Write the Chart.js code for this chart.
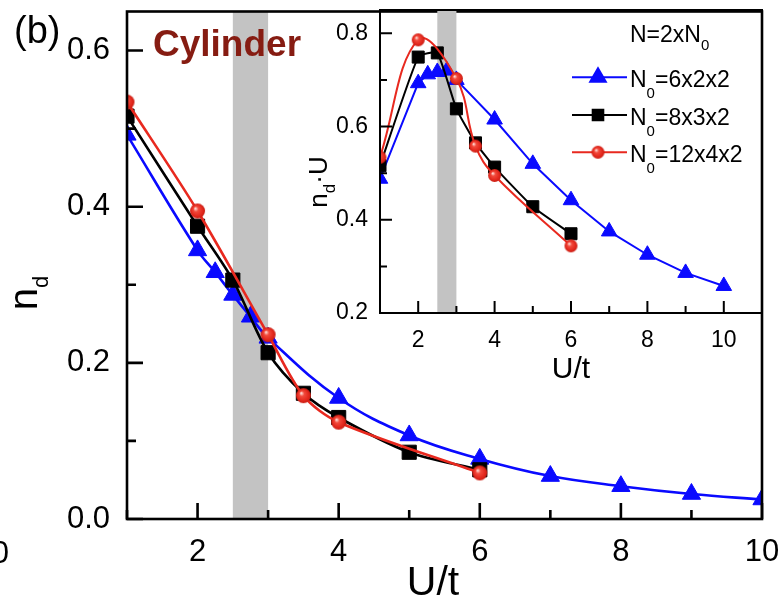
<!DOCTYPE html>
<html>
<head>
<meta charset="utf-8">
<script src="https://cdn.jsdelivr.net/npm/chart.js@4.4.0/dist/chart.umd.min.js"></script>
<style>
body { margin: 0; background: #fff; }
#wrap { position: relative; width: 784px; height: 600px; }
#main { position: absolute; left: 0; top: 0; }
#inset { position: absolute; left: 290px; top: 0; }
</style>
</head>
<body>
<div id="wrap">
  <canvas id="main" width="784" height="600"></canvas>
  <canvas id="inset" width="494" height="400"></canvas>
</div>
<script>
// n_d vs U/t for three cluster sizes, N = 2 x N0
var seriesNames = ['6x2x2', '8x3x2', '12x4x2'];

var uBlue  = [1, 2, 2.25, 2.5, 2.75, 3, 4, 5, 6, 7, 8, 9, 10];
var ndBlue = [0.492, 0.344, 0.316, 0.287, 0.259, 0.232, 0.155, 0.107, 0.077, 0.055, 0.042, 0.032, 0.025];

var uBlack  = [1, 2, 2.5, 3, 3.5, 4, 5, 6];
var ndBlack = [0.516, 0.375, 0.306, 0.213, 0.161, 0.130, 0.0855, 0.063];

var uRed  = [1, 2, 3, 3.5, 4, 6];
var ndRed = [0.534, 0.3945, 0.236, 0.158, 0.124, 0.059];

// inset: n_d * U
var nduBlue  = [0.488, 0.693, 0.712, 0.717, 0.720, 0.700, 0.615, 0.520, 0.442, 0.375, 0.325, 0.286, 0.258];
var nduBlack = [0.516, 0.749, 0.758, 0.638, 0.565, 0.513, 0.428, 0.370];
var nduRed   = [0.534, 0.786, 0.703, 0.558, 0.495, 0.344];

// shaded crossover window in U/t
var band = [2.5, 3.0];

var mainXTicks = [2, 4, 6, 8, 10];
var mainYTicks = [0.0, 0.2, 0.4, 0.6];
var insetXTicks = [2, 4, 6, 8, 10];
var insetYTicks = [0.2, 0.4, 0.6, 0.8];

var BLUE = '#0a0aff', BLACK = '#000000', RED = '#e8291f';
var FONT = "'Liberation Sans', Arial, sans-serif";

Chart.defaults.font.family = FONT;
Chart.defaults.color = '#000';

function pts(xs, ys) {
  return xs.map(function (x, i) { return { x: x, y: ys[i] }; });
}

// shaded red ball used as point marker
function sphere(r) {
  var c = document.createElement('canvas');
  var s = Math.ceil(r * 2) + 2;
  c.width = s; c.height = s;
  var g = c.getContext('2d');
  var cx = s / 2, cy = s / 2;
  var grad = g.createRadialGradient(cx - r * 0.3, cy - r * 0.35, r * 0.05, cx, cy, r);
  grad.addColorStop(0, '#ffe0da');
  grad.addColorStop(0.3, '#f24a3c');
  grad.addColorStop(0.75, '#e3281d');
  grad.addColorStop(1, '#c71d13');
  g.fillStyle = grad;
  g.beginPath(); g.arc(cx, cy, r, 0, Math.PI * 2); g.fill();
  return c;
}

// draws text pieces left to right: [text, size, baselineShift]
function runWidth(c, parts) {
  var w = 0;
  parts.forEach(function (p) { c.font = p[1] + 'px ' + FONT; w += c.measureText(p[0]).width; });
  return w;
}
function textRun(c, x, y, parts) {
  c.textAlign = 'left';
  c.textBaseline = 'alphabetic';
  parts.forEach(function (p) {
    c.font = p[1] + 'px ' + FONT;
    c.fillText(p[0], x, y + (p[2] || 0));
    x += c.measureText(p[0]).width;
  });
  return x;
}
function rotatedRun(c, cx, cy, parts) {
  c.save();
  c.translate(cx, cy);
  c.rotate(-Math.PI / 2);
  textRun(c, -runWidth(c, parts) / 2, 0, parts);
  c.restore();
}

function isStep(v, step) {
  return Math.abs(v / step - Math.round(v / step)) < 1e-6;
}

// grey band, box frame and inward tick marks
var axesBox = {
  id: 'axesBox',
  beforeDatasetsDraw: function (chart, args, o) {
    var a = chart.chartArea, xs = chart.scales.x, c = chart.ctx;
    var x0 = xs.getPixelForValue(band[0]), x1 = xs.getPixelForValue(band[1]);
    c.save();
    c.fillStyle = '#c3c3c3';
    c.fillRect(x0, a.top, x1 - x0, a.bottom - a.top);
    c.restore();
  },
  afterDraw: function (chart, args, o) {
    var a = chart.chartArea, xs = chart.scales.x, ys = chart.scales.y, c = chart.ctx;
    c.save();
    c.strokeStyle = '#000';
    c.lineWidth = o.lw;
    c.strokeRect(a.left, a.top, a.right - a.left, a.bottom - a.top);
    c.beginPath();
    xs.ticks.forEach(function (t) {
      var px = xs.getPixelForValue(t.value);
      var len = isStep(t.value, 2) ? o.major : o.minor;
      c.moveTo(px, a.bottom); c.lineTo(px, a.bottom - len);
    });
    ys.ticks.forEach(function (t) {
      var py = ys.getPixelForValue(t.value);
      var len = isStep(t.value, 0.2) ? o.major : o.minor;
      c.moveTo(a.left, py); c.lineTo(a.left + len, py);
    });
    c.stroke();
    c.restore();
  }
};

function lineSet(label, xs, ys, color, style, radius, width, tension, order) {
  return {
    label: label,
    data: pts(xs, ys),
    borderColor: color,
    backgroundColor: color,
    borderWidth: width,
    tension: tension,
    pointStyle: style,
    pointRadius: radius,
    pointBackgroundColor: color,
    pointBorderColor: color,
    pointBorderWidth: 1,
    order: order
  };
}

// fixed axis sizes, no edge padding from tick labels
function noPad(s) {
  s.paddingTop = 0; s.paddingBottom = 0; s.paddingLeft = 0; s.paddingRight = 0;
}

function scaleX(min, max, labels, size, pad, height) {
  return {
    type: 'linear', min: min, max: max,
    grid: { display: false, drawTicks: false },
    border: { display: false },
    afterFit: function (s) { s.height = height; noPad(s); },
    ticks: {
      stepSize: 1, autoSkip: false, maxRotation: 0, padding: pad,
      font: { size: size },
      callback: function (v) { return labels.indexOf(v) >= 0 ? String(v) : ''; }
    }
  };
}
function scaleY(min, max, labels, size, pad, width) {
  return {
    type: 'linear', min: min, max: max,
    grid: { display: false, drawTicks: false },
    border: { display: false },
    afterFit: function (s) { s.width = width; noPad(s); },
    ticks: {
      stepSize: 0.1, includeBounds: false, autoSkip: false, padding: pad,
      font: { size: size },
      callback: function (v) {
        for (var i = 0; i < labels.length; i++) {
          if (Math.abs(labels[i] - v) < 1e-6) return labels[i].toFixed(1);
        }
        return '';
      }
    }
  };
}

var mainTexts = {
  id: 'mainTexts',
  afterDraw: function (chart) {
    var c = chart.ctx;
    c.save();
    c.fillStyle = '#000';
    textRun(c, 14, 43, [['(b)', 38, 0]]);
    c.textAlign = 'right';
    c.font = '31px ' + FONT;
    c.fillText('0', 9, 563);
    c.font = 'bold 37px ' + FONT;
    c.fillStyle = '#861c12';
    c.textAlign = 'left';
    c.fillText('Cylinder', 153, 56);
    c.fillStyle = '#000';
    c.font = '41px ' + FONT;
    c.textAlign = 'center';
    c.fillText('U/t', 433, 595);
    rotatedRun(c, 37, 293, [['n', 40, 0], ['d', 22, 11]]);
    c.restore();
  }
};

var ballMain = sphere(7.5), ballInset = sphere(6.5), ballLegend = sphere(6.5);

new Chart(document.getElementById('main'), {
  type: 'line',
  data: {
    datasets: [
      lineSet(seriesNames[0], uBlue, ndBlue, BLUE, 'triangle', 10.5, 2.6, 0.4, 3),
      lineSet(seriesNames[1], uBlack, ndBlack, BLACK, 'rect', 10, 2.6, 0.3, 2),
      lineSet(seriesNames[2], uRed, ndRed, RED, ballMain, 7.5, 2.6, 0.3, 1)
    ]
  },
  options: {
    responsive: false,
    animation: false,
    devicePixelRatio: 1,
    events: [],
    layout: { padding: { left: 0, top: 7, right: 22, bottom: 0 } },
    scales: {
      x: scaleX(1, 10, mainXTicks, 31, 15, 81),
      y: scaleY(0, 0.65, mainYTicks, 31, 17, 127)
    },
    plugins: {
      legend: { display: false },
      tooltip: { enabled: false },
      axesBox: { lw: 2.6, major: 16, minor: 9 }
    }
  },
  plugins: [axesBox, mainTexts]
});

var insetTexts = {
  id: 'insetTexts',
  afterDraw: function (chart) {
    var c = chart.ctx;
    c.save();
    c.fillStyle = '#000';
    c.font = '30px ' + FONT;
    c.textAlign = 'center';
    c.fillText('U/t', 281, 378);
    rotatedRun(c, 37, 182, [['n', 26, 0], ['d', 17, 8], ['\u00b7U', 26, 0]]);

    // legend
    textRun(c, 340, 41.5, [['N=2xN', 23, 0], ['0', 15, 8.5]]);
    var rows = [
      { y: 86.7, color: BLUE, style: 'triangle', r: 9, name: seriesNames[0] },
      { y: 124.5, color: BLACK, style: 'rect', r: 7.5, name: seriesNames[1] },
      { y: 161.7, color: RED, style: ballLegend, r: 6.5, name: seriesNames[2] }
    ];
    rows.forEach(function (row) {
      var ly = row.y - 9.5;
      c.strokeStyle = row.color;
      c.fillStyle = row.color;
      c.lineWidth = 2;
      c.beginPath(); c.moveTo(282, ly); c.lineTo(337, ly); c.stroke();
      Chart.helpers.drawPoint(c, { pointStyle: row.style, radius: row.r, rotation: 0, borderWidth: 1 }, 308, ly);
      c.fillStyle = '#000';
      textRun(c, 340, row.y, [['N', 23, 0], ['0', 15, 11], ['=' + row.name, 23, 0]]);
    });
    c.restore();
  }
};

new Chart(document.getElementById('inset'), {
  type: 'line',
  data: {
    datasets: [
      lineSet(seriesNames[0], uBlue, nduBlue, BLUE, 'triangle', 9, 2, 0, 3),
      lineSet(seriesNames[1], uBlack, nduBlack, BLACK, 'rect', 8.5, 2, 0.15, 2),
      lineSet(seriesNames[2], uRed, nduRed, RED, ballInset, 6.5, 2, 0.4, 1)
    ]
  },
  options: {
    responsive: false,
    animation: false,
    devicePixelRatio: 1,
    events: [],
    layout: { padding: { left: 0, top: 7, right: 22, bottom: 0 } },
    scales: {
      x: scaleX(1, 11, insetXTicks, 23, 14, 87),
      y: scaleY(0.2, 0.85, insetYTicks, 23, 12, 90)
    },
    plugins: {
      legend: { display: false },
      tooltip: { enabled: false },
      axesBox: { lw: 2, major: 12, minor: 7 }
    }
  },
  plugins: [axesBox, insetTexts]
});
</script>
</body>
</html>
